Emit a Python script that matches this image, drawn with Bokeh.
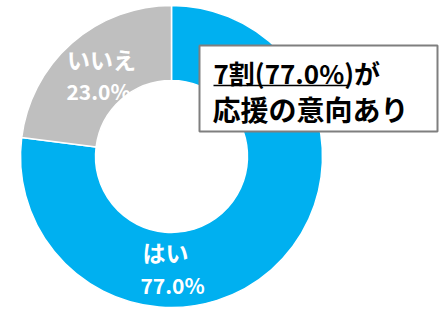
import math
from bokeh.plotting import figure
from bokeh.models import Range1d, ColumnDataSource
from bokeh.core.properties import value
from bokeh.embed import file_html
from bokeh.resources import INLINE

# ---- data ----
categories = ["はい", "いいえ"]
percents = [77.0, 23.0]
colors = ["#00B0F0", "#BFBFBF"]
pct_labels = ["77.0%", "23.0%"]
callout_line1 = "7割(77.0%)が"
callout_line2 = "応援の意向あり"

W, H = 439, 314
p = figure(width=W, height=H, output_backend="svg", toolbar_location=None,
           x_range=Range1d(0, W), y_range=Range1d(H, 0),
           min_border=0, outline_line_color=None)
p.axis.visible = False
p.grid.visible = False
p.background_fill_color = "white"
p.border_fill_color = "white"

cx, cy = 171, 156
r_out, r_in = 151, 76

# angles in screen orientation: start at top, go clockwise
total = sum(percents)
starts, ends = [], []
acc = 0.0
for v in percents:
    a0 = math.pi / 2 - 2 * math.pi * acc / total
    acc += v
    a1 = math.pi / 2 - 2 * math.pi * acc / total
    starts.append(a0)
    ends.append(a1)

src = ColumnDataSource(dict(cat=categories, val=percents, color=colors,
                            start=starts, end=ends))
p.annular_wedge(x=cx, y=cy, inner_radius=r_in, outer_radius=r_out,
                start_angle="start", end_angle="end", direction="clock",
                fill_color="color", line_color="white", line_width=1.5, source=src)

# slice labels (manual placement like the original)
label_pos = [(165, 251, 172, 284), (101, 58, 98, 90)]
font = value("Noto Sans CJK JP")
for cat, pl, (x1, y1, x2, y2) in zip(categories, pct_labels, label_pos):
    p.text(x=[x1], y=[y1], text=[cat], text_color="white", text_font=font,
           text_font_style="bold", text_font_size="23px",
           text_align="center", text_baseline="middle")
    p.text(x=[x2], y=[y2], text=[pl], text_color="white", text_font=font,
           text_font_style="bold", text_font_size="21px",
           text_align="center", text_baseline="middle")

# callout box
bx0, bx1, by0, by1 = 199, 437, 45, 131
p.quad(left=[bx0], right=[bx1], top=[by0], bottom=[by1],
       fill_color="white", line_color="#7F7F7F", line_width=2)
p.text(x=[213], y=[72], text=[callout_line1], text_color="black", text_font=font,
       text_font_style="bold", text_font_size="26px",
       text_align="left", text_baseline="middle")
p.text(x=[212], y=[108], text=[callout_line2], text_color="black", text_font=font,
       text_font_style="bold", text_font_size="28px",
       text_align="left", text_baseline="middle")
p.segment(x0=[213], y0=[85], x1=[348], y1=[85], line_color="black", line_width=1.5)

open("out.html", "w").write(file_html(p, INLINE))
